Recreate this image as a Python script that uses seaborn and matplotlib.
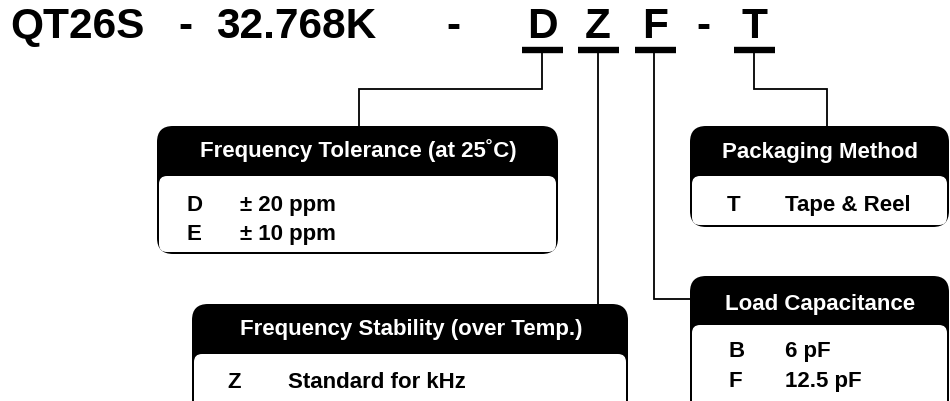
import matplotlib
matplotlib.use('Agg')
import matplotlib.pyplot as plt
from matplotlib.patches import FancyBboxPatch
import seaborn as sns

sns.set_style('white')
plt.rcParams['font.family'] = ['Liberation Sans', 'DejaVu Sans']
plt.rcParams['text.color'] = 'black'

# Part number pieces
PART_PREFIX = ['QT26S', '-', '32.768K', '-']
CODE_LETTERS = ['D', 'Z', 'F', '-', 'T']

# Option boxes
BOX_TITLES = ['Frequency Tolerance (at 25˚C)', 'Packaging Method',
              'Frequency Stability (over Temp.)', 'Load Capacitance']
BOX_CODES = [['D', 'E'], ['T'], ['Z'], ['B', 'F']]
BOX_VALUES = [['± 20 ppm', '± 10 ppm'], ['Tape & Reel'], ['Standard for kHz'], ['6 pF', '12.5 pF']]

# layout (pixels, y down)
prefix_x = [10, 185, 216, 453]
prefix_ha = ['left', 'center', 'left', 'center']
letter_x = [542, 598, 655, 703, 754]
baseline = 38
bar_y = 50.5

# box: left, top, right, bottom, header bottom
box_geo = [(157, 127, 558, 255, 177),
           (690, 127, 949, 228, 177),
           (192, 305, 628, 420, 355),
           (690, 277, 949, 420, 326)]
title_base = [157, 158, 335, 310]
code_x = [187, 727, 227, 728]
value_x = [240, 785, 288, 785]
row_base = [[211, 240], [211], [388], [357, 387]]

connectors = [
    [(542, 53), (542, 90), (359, 90), (359, 127)],
    [(598, 53), (598, 305)],
    [(654, 53), (654, 300), (690, 300)],
    [(754, 53), (754, 90), (827, 90), (827, 127)],
]

fig = plt.figure(figsize=(9.5, 4.02), dpi=100)
ax = fig.add_axes([0, 0, 1, 1])
ax.set_xlim(0, 950)
ax.set_ylim(402, 0)
ax.axis('off')

TXT = dict(fontweight='bold', va='baseline')
BOX_FS = 16

for s, x, ha in zip(PART_PREFIX, prefix_x, prefix_ha):
    ax.text(x, baseline, s, fontsize=30.5, ha=ha, **TXT)

for s, x in zip(CODE_LETTERS, letter_x):
    ax.text(x, baseline, s, fontsize=30.5, ha='center', **TXT)
    if s != '-':
        ax.plot([x - 20.5, x + 20.5], [bar_y, bar_y], color='black', lw=4.6,
                solid_capstyle='butt')

for pts in connectors:
    xs, ys = zip(*pts)
    ax.plot(xs, ys, color='black', lw=1.3, solid_joinstyle='miter')

for i, (l, t, r, b, hb) in enumerate(box_geo):
    outer = FancyBboxPatch((l, t), r - l, b - t,
                           boxstyle='round,pad=0,rounding_size=16',
                           fc='black', ec='none', zorder=2)
    inner = FancyBboxPatch((l + 2, hb), r - l - 4, b - hb - 2,
                           boxstyle='round,pad=0,rounding_size=8',
                           fc='white', ec='none', zorder=3)
    ax.add_patch(outer)
    ax.add_patch(inner)
    ax.text((l + r) / 2 + 1, title_base[i], BOX_TITLES[i], fontsize=BOX_FS,
            ha='center', color='white', zorder=4, **TXT)
    for code, val, yb in zip(BOX_CODES[i], BOX_VALUES[i], row_base[i]):
        ax.text(code_x[i], yb, code, fontsize=BOX_FS, ha='left', zorder=4, **TXT)
        ax.text(value_x[i], yb, val, fontsize=BOX_FS, ha='left', zorder=4, **TXT)

fig.savefig('out.png', dpi=100, facecolor='white')
